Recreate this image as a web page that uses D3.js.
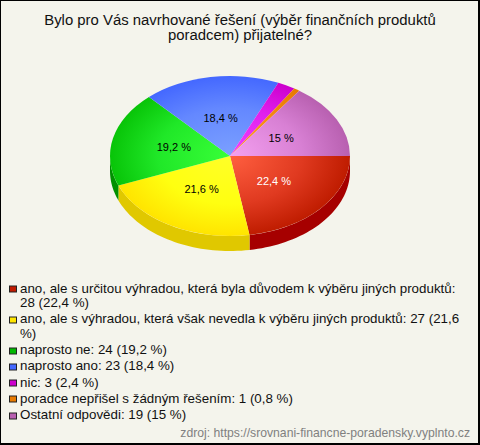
<!DOCTYPE html>
<html><head><meta charset="utf-8">
<script src="https://cdn.jsdelivr.net/npm/d3@7"></script>
<style>html,body{margin:0;padding:0;background:#f4f4ec}svg{display:block;font-family:"Liberation Sans",Arial,sans-serif}</style>
</head><body><svg id="c" width="480" height="445"></svg>
<script>
const titleLines = ["Bylo pro Vás navrhované řešení (výběr finančních produktů", "poradcem) přijatelné?"];
const categories = ["ano, ale s určitou výhradou, která byla důvodem k výběru jiných produktů", "ano, ale s výhradou, která však nevedla k výběru jiných produktů", "naprosto ne", "naprosto ano", "nic", "poradce nepřišel s žádným řešením", "Ostatní odpovědi"];
const values = [28, 27, 24, 23, 3, 1, 19];
const percentText = ["22,4 %", "21,6 %", "19,2 %", "18,4 %", "2,4 %", "0,8 %", "15 %"];
const legendLines = [
 ["ano, ale s určitou výhradou, která byla důvodem k výběru jiných produktů:", "28 (22,4 %)"],
 ["ano, ale s výhradou, která však nevedla k výběru jiných produktů: 27 (21,6", "%)"],
 ["naprosto ne: 24 (19,2 %)"],
 ["naprosto ano: 23 (18,4 %)"],
 ["nic: 3 (2,4 %)"],
 ["poradce nepřišel s žádným řešením: 1 (0,8 %)"],
 ["Ostatní odpovědi: 19 (15 %)"]];
const innerColors = ["#ff5f40", "#ffff28", "#38ff38", "#7ba0ff", "#f040ff", "#ff9a20", "#f4a0f0"];
const midColors = ["#e03a20", "#ffff10", "#20e828", "#6488ff", "#e020ee", "#f48a10", "#d880d4"];
const outerColors = ["#bf1c00", "#ffe400", "#08c408", "#4468ff", "#cc00cc", "#e87a00", "#b860b0"];
const sideColors = ["#a60000", "#e0c800", "#009000", "#3050c0", "#a000a0", "#b06000", "#904090"];
const swatchColors = ["#c01a00", "#ffe600", "#00b800", "#4468ff", "#cc00cc", "#e87a00", "#b860b0"];
const source = "zdroj: https://srovnani-financne-poradensky.vyplnto.cz";

const svg = d3.select("#c");
const W = 480, H = 445, cx = 230, cy = 156, rx = 120, ry = 80, depth = 15;
svg.append("rect").attr("width",W).attr("height",H).attr("fill","#000");
svg.append("rect").attr("x",1).attr("y",1).attr("width",W-3).attr("height",H-3).attr("fill","#f4f4ec");

svg.append("g").selectAll("text").data(titleLines).join("text")
  .attr("x",240).attr("y",(d,i)=>24.5+i*15).attr("text-anchor","middle").attr("font-size",14.9).attr("fill","#111").text(d=>d);

const pie = d3.pie().sort(null).startAngle(Math.PI/2).endAngle(Math.PI/2+2*Math.PI);
const arcs = pie(values);
const defs = svg.append("defs");
arcs.forEach((a,i)=>{
  const g = defs.append("radialGradient").attr("id","g"+i).attr("gradientUnits","userSpaceOnUse").attr("cx",0).attr("cy",0).attr("r",rx);
  g.append("stop").attr("offset","0").attr("stop-color",innerColors[i]);
  g.append("stop").attr("offset","0.6").attr("stop-color",midColors[i]);
  g.append("stop").attr("offset","1").attr("stop-color",outerColors[i]);
});
const px = d3.scaleLinear().domain([-1,1]).range([cx-rx,cx+rx]);
const py = d3.scaleLinear().domain([-1,1]).range([cy-ry,cy+ry]);
const sideGroup = svg.append("g");
arcs.forEach((a,i)=>{
  const s = Math.max(a.startAngle, Math.PI/2), e = Math.min(a.endAngle, 3*Math.PI/2);
  if (e <= s) return;
  const n = 40, ts = d3.range(n+1).map(k=>s+(e-s)*k/n);
  const area = d3.area().x(t=>px(Math.sin(t))).y0(t=>py(-Math.cos(t))).y1(t=>py(-Math.cos(t))+depth);
  sideGroup.append("path").attr("d",area(ts)).attr("fill",sideColors[i]);
});
const arc = d3.arc().innerRadius(0).outerRadius(rx);
svg.append("g").attr("transform",`translate(${cx},${cy}) scale(1,${ry/rx})`)
  .selectAll("path").data(arcs).join("path").attr("d",arc).attr("fill",(d,i)=>`url(#g${i})`);

const labelArcR = 0.48;
svg.append("g").selectAll("text").data(arcs.filter((d,i)=>i!==4&&i!==5)).join("text")
  .attr("x",d=>px(labelArcR*Math.sin((d.startAngle+d.endAngle)/2)))
  .attr("y",d=>py(-labelArcR*Math.cos((d.startAngle+d.endAngle)/2))+4)
  .attr("text-anchor","middle").attr("font-size",11)
  .attr("fill",d=>d.index===0?"#fff":"#000")
  .text(d=>percentText[d.index]);

let y = 292.5;
const leg = svg.append("g");
legendLines.forEach((lines,i)=>{
  leg.append("rect").attr("x",9.5).attr("y",Math.round(y-6.5)).attr("width",7).attr("height",6).attr("fill",swatchColors[i]).attr("stroke","#222").attr("stroke-width",1);
  lines.forEach((l,j)=>{
    leg.append("text").attr("x",20).attr("y",y).attr("font-size",13.35).attr("fill","#111").text(l);
    y += j<lines.length-1 ? 14.5 : 16.25;
  });
});
svg.append("text").attr("x",470).attr("y",437).attr("text-anchor","end").attr("font-size",12.2).attr("fill","#808080").text(source);
</script></body></html>
